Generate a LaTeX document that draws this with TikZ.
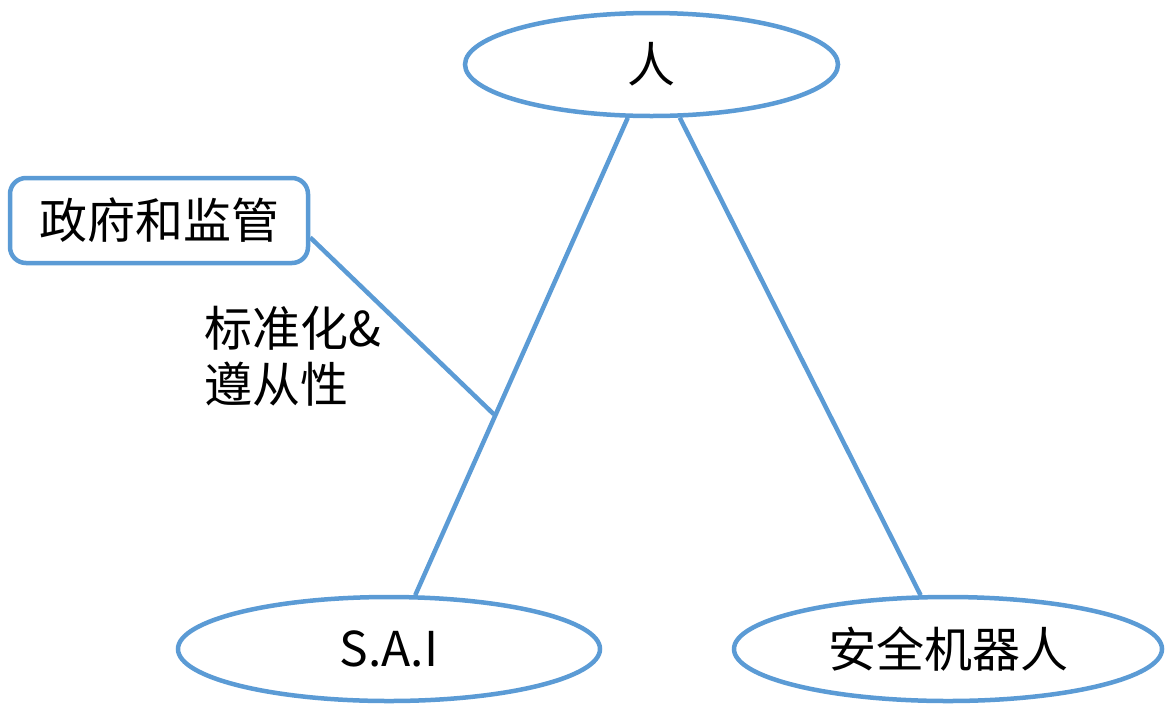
\documentclass[tikz,border=0pt]{standalone}
\usepackage{fontspec}
\setmainfont{Noto Sans CJK SC}
\usetikzlibrary{shapes.geometric,calc}
\definecolor{edgeblue}{HTML}{5B9BD5}
\tikzset{
  oval/.style={ellipse, draw=edgeblue, line width=4.5pt, inner sep=0pt, fill=white},
  govbox/.style={rectangle, rounded corners=16pt, draw=edgeblue, line width=4.5pt, inner sep=0pt, minimum width=298pt, minimum height=85pt},
  link/.style={draw=edgeblue, line width=4.5pt},
  big/.style={font=\fontsize{48}{56}\selectfont}
}
\begin{document}
\begin{tikzpicture}[x=1pt,y=-1pt]
\useasboundingbox (0,0) rectangle (1166,705);
\node[oval, big, minimum width=373pt, minimum height=103pt] (top) at (651.5,64.5) {人};
\node[oval, big, minimum width=422pt, minimum height=104pt] (sai) at (389,649) {S.A.I};
\node[oval, big, minimum width=428pt, minimum height=104pt] (robot) at (948,649) {安全机器人};
\node[govbox, big] (gov) at (159,220.5) {政府和监管};
\node[big, align=left, inner sep=0pt, anchor=center] (lbl) at (293,356) {标准化\&\\遵从性};
\draw[link] (top.246) -- (sai.64);
\draw[link] (top.298.5) -- (robot.117.4);
\coordinate (J) at ($(top.246)!0.621!(sai.64)$);
\draw[link] ([yshift=-17pt]gov.east) -- ([xshift=-2pt]J);
\end{tikzpicture}
\end{document}
